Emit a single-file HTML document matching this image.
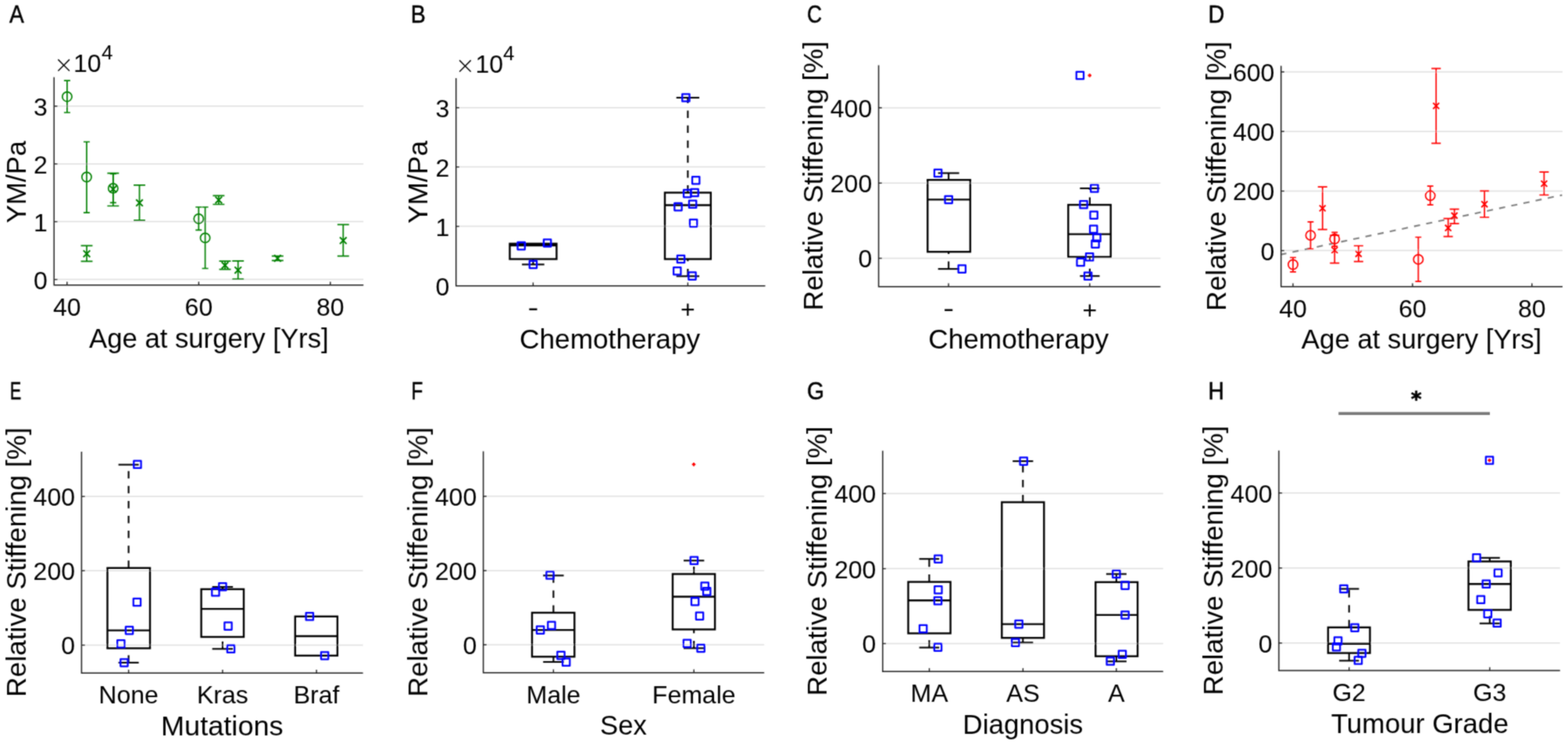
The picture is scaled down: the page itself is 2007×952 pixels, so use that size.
<!DOCTYPE html><html><head><meta charset="utf-8"><title>Figure</title>
<style>html,body{margin:0;padding:0;background:#fff;overflow:hidden;}svg{display:block;}text{font-family:"Liberation Sans", Arial, Helvetica, sans-serif;fill:#000;}</style>
</head><body>
<svg width="2007" height="952" viewBox="0 0 2007 952">
<defs><filter id="soft" filterUnits="userSpaceOnUse" x="0" y="0" width="2007" height="952"><feConvolveMatrix order="3" kernelMatrix="1 2 1 2 8 2 1 2 1" edgeMode="duplicate" preserveAlpha="false"/></filter></defs>
<rect width="2007" height="952" fill="#fff"/>
<g filter="url(#soft)">
<line x1="69.2" y1="357.6" x2="465.2" y2="357.6" stroke="#dfdfdf" stroke-width="1.5"/>
<line x1="69.2" y1="283.6" x2="465.2" y2="283.6" stroke="#dfdfdf" stroke-width="1.5"/>
<line x1="69.2" y1="209.7" x2="465.2" y2="209.7" stroke="#dfdfdf" stroke-width="1.5"/>
<line x1="69.2" y1="135.8" x2="465.2" y2="135.8" stroke="#dfdfdf" stroke-width="1.5"/>
<line x1="583.7" y1="289.6" x2="979.5" y2="289.6" stroke="#dfdfdf" stroke-width="1.5"/>
<line x1="583.7" y1="213.6" x2="979.5" y2="213.6" stroke="#dfdfdf" stroke-width="1.5"/>
<line x1="583.7" y1="137.8" x2="979.5" y2="137.8" stroke="#dfdfdf" stroke-width="1.5"/>
<line x1="1124.6" y1="330.5" x2="1485.4" y2="330.5" stroke="#dfdfdf" stroke-width="1.5"/>
<line x1="1124.6" y1="234.3" x2="1485.4" y2="234.3" stroke="#dfdfdf" stroke-width="1.5"/>
<line x1="1124.6" y1="137.9" x2="1485.4" y2="137.9" stroke="#dfdfdf" stroke-width="1.5"/>
<line x1="1639.7" y1="320.6" x2="2000" y2="320.6" stroke="#dfdfdf" stroke-width="1.5"/>
<line x1="1639.7" y1="244.5" x2="2000" y2="244.5" stroke="#dfdfdf" stroke-width="1.5"/>
<line x1="1639.7" y1="168.2" x2="2000" y2="168.2" stroke="#dfdfdf" stroke-width="1.5"/>
<line x1="1639.7" y1="92" x2="2000" y2="92" stroke="#dfdfdf" stroke-width="1.5"/>
<line x1="104.4" y1="825.5" x2="464.6" y2="825.5" stroke="#dfdfdf" stroke-width="1.5"/>
<line x1="104.4" y1="730.3" x2="464.6" y2="730.3" stroke="#dfdfdf" stroke-width="1.5"/>
<line x1="104.4" y1="635.3" x2="464.6" y2="635.3" stroke="#dfdfdf" stroke-width="1.5"/>
<line x1="618.6" y1="825" x2="978.2" y2="825" stroke="#dfdfdf" stroke-width="1.5"/>
<line x1="618.6" y1="730.2" x2="978.2" y2="730.2" stroke="#dfdfdf" stroke-width="1.5"/>
<line x1="618.6" y1="635.1" x2="978.2" y2="635.1" stroke="#dfdfdf" stroke-width="1.5"/>
<line x1="1129.8" y1="823.5" x2="1488.8" y2="823.5" stroke="#dfdfdf" stroke-width="1.5"/>
<line x1="1129.8" y1="727.6" x2="1488.8" y2="727.6" stroke="#dfdfdf" stroke-width="1.5"/>
<line x1="1129.8" y1="631.5" x2="1488.8" y2="631.5" stroke="#dfdfdf" stroke-width="1.5"/>
<line x1="1636.9" y1="822.8" x2="1996.8" y2="822.8" stroke="#dfdfdf" stroke-width="1.5"/>
<line x1="1636.9" y1="726.8" x2="1996.8" y2="726.8" stroke="#dfdfdf" stroke-width="1.5"/>
<line x1="1636.9" y1="630.8" x2="1996.8" y2="630.8" stroke="#dfdfdf" stroke-width="1.5"/>
<path d="M85.9 103.1V144M81.9 103.1H89.9M81.9 144H89.9" fill="none" stroke="#008000" stroke-width="1.7"/>
<circle cx="85.9" cy="123.7" r="6.1" fill="none" stroke="#008000" stroke-width="1.7"/>
<path d="M110.9 181.5V272.1M106.9 181.5H114.9M106.9 272.1H114.9" fill="none" stroke="#008000" stroke-width="1.7"/>
<circle cx="110.9" cy="226.5" r="6.1" fill="none" stroke="#008000" stroke-width="1.7"/>
<path d="M144.8 222.3V259.3M140.8 222.3H148.8M140.8 259.3H148.8" fill="none" stroke="#008000" stroke-width="1.7"/>
<circle cx="144.8" cy="240.9" r="6.1" fill="none" stroke="#008000" stroke-width="1.7"/>
<path d="M254.3 265V294.3M250.3 265H258.3M250.3 294.3H258.3" fill="none" stroke="#008000" stroke-width="1.7"/>
<circle cx="254.3" cy="279.9" r="6.1" fill="none" stroke="#008000" stroke-width="1.7"/>
<path d="M262.6 265V343.5M258.6 265H266.6M258.6 343.5H266.6" fill="none" stroke="#008000" stroke-width="1.7"/>
<circle cx="262.6" cy="304.4" r="6.1" fill="none" stroke="#008000" stroke-width="1.7"/>
<path d="M111 314.3V334.3M103.55 314.3H118.45M103.55 334.3H118.45" fill="none" stroke="#008000" stroke-width="1.7"/>
<path d="M106.7 320.4L115.3 329M106.7 329L115.3 320.4" fill="none" stroke="#008000" stroke-width="2"/>
<path d="M144.8 221.7V263.5M137.35 221.7H152.25M137.35 263.5H152.25" fill="none" stroke="#008000" stroke-width="1.7"/>
<path d="M140.5 237.8L149.1 246.4M140.5 246.4L149.1 237.8" fill="none" stroke="#008000" stroke-width="2"/>
<path d="M178.5 236.8V281.8M171.05 236.8H185.95M171.05 281.8H185.95" fill="none" stroke="#008000" stroke-width="1.7"/>
<path d="M174.2 255.3L182.8 263.9M174.2 263.9L182.8 255.3" fill="none" stroke="#008000" stroke-width="2"/>
<path d="M279.9 250.4V261.5M272.45 250.4H287.35M272.45 261.5H287.35" fill="none" stroke="#008000" stroke-width="1.7"/>
<path d="M275.6 251.6L284.2 260.2M275.6 260.2L284.2 251.6" fill="none" stroke="#008000" stroke-width="2"/>
<path d="M288 334.1V344.7M280.55 334.1H295.45M280.55 344.7H295.45" fill="none" stroke="#008000" stroke-width="1.7"/>
<path d="M283.7 335.2L292.3 343.8M283.7 343.8L292.3 335.2" fill="none" stroke="#008000" stroke-width="2"/>
<path d="M304.7 333.9V357M297.25 333.9H312.15M297.25 357H312.15" fill="none" stroke="#008000" stroke-width="1.7"/>
<path d="M300.4 341.4L309 350M300.4 350L309 341.4" fill="none" stroke="#008000" stroke-width="2"/>
<path d="M355.3 327.7V333.4M347.85 327.7H362.75M347.85 333.4H362.75" fill="none" stroke="#008000" stroke-width="1.7"/>
<path d="M351 326.3L359.6 334.9M351 334.9L359.6 326.3" fill="none" stroke="#008000" stroke-width="2"/>
<path d="M439.3 287.3V327.6M431.85 287.3H446.75M431.85 327.6H446.75" fill="none" stroke="#008000" stroke-width="1.7"/>
<path d="M435 303.5L443.6 312.1M435 312.1L443.6 303.5" fill="none" stroke="#008000" stroke-width="2"/>
<line x1="682.4" y1="338.4" x2="682.4" y2="331.5" stroke="#000" stroke-width="2.1" stroke-dasharray="9.5 9.6"/>
<line x1="668.1" y1="338.4" x2="696.7" y2="338.4" stroke="#000" stroke-width="2.1"/>
<rect x="652.5" y="311.8" width="59.9" height="19.7" fill="none" stroke="#000" stroke-width="2.4"/>
<line x1="652.5" y1="314" x2="712.4" y2="314" stroke="#000" stroke-width="2.4"/>
<rect x="662.55" y="309.95" width="9.3" height="9.3" fill="none" stroke="#0000ff" stroke-width="2.25" stroke-linejoin="round"/>
<rect x="695.95" y="306.25" width="9.3" height="9.3" fill="none" stroke="#0000ff" stroke-width="2.25" stroke-linejoin="round"/>
<rect x="677.75" y="333.75" width="9.3" height="9.3" fill="none" stroke="#0000ff" stroke-width="2.25" stroke-linejoin="round"/>
<line x1="880.4" y1="246.5" x2="880.4" y2="125" stroke="#000" stroke-width="2.1" stroke-dasharray="9.5 9.6"/>
<line x1="865.7" y1="125" x2="895.1" y2="125" stroke="#000" stroke-width="2.1"/>
<line x1="880.4" y1="353.4" x2="880.4" y2="331.5" stroke="#000" stroke-width="2.1" stroke-dasharray="9.5 9.6"/>
<line x1="865.7" y1="353.4" x2="895.1" y2="353.4" stroke="#000" stroke-width="2.1"/>
<rect x="851" y="246.5" width="58.8" height="85" fill="none" stroke="#000" stroke-width="2.4"/>
<line x1="851" y1="262.5" x2="909.8" y2="262.5" stroke="#000" stroke-width="2.4"/>
<rect x="873.25" y="120.35" width="9.3" height="9.3" fill="none" stroke="#0000ff" stroke-width="2.25" stroke-linejoin="round"/>
<rect x="886.05" y="226.05" width="9.3" height="9.3" fill="none" stroke="#0000ff" stroke-width="2.25" stroke-linejoin="round"/>
<rect x="875.05" y="242.95" width="9.3" height="9.3" fill="none" stroke="#0000ff" stroke-width="2.25" stroke-linejoin="round"/>
<rect x="884.45" y="241.85" width="9.3" height="9.3" fill="none" stroke="#0000ff" stroke-width="2.25" stroke-linejoin="round"/>
<rect x="863.35" y="259.95" width="9.3" height="9.3" fill="none" stroke="#0000ff" stroke-width="2.25" stroke-linejoin="round"/>
<rect x="881.95" y="256.65" width="9.3" height="9.3" fill="none" stroke="#0000ff" stroke-width="2.25" stroke-linejoin="round"/>
<rect x="882.95" y="280.75" width="9.3" height="9.3" fill="none" stroke="#0000ff" stroke-width="2.25" stroke-linejoin="round"/>
<rect x="866.85" y="326.85" width="9.3" height="9.3" fill="none" stroke="#0000ff" stroke-width="2.25" stroke-linejoin="round"/>
<rect x="862.15" y="342.15" width="9.3" height="9.3" fill="none" stroke="#0000ff" stroke-width="2.25" stroke-linejoin="round"/>
<rect x="881.35" y="348.45" width="9.3" height="9.3" fill="none" stroke="#0000ff" stroke-width="2.25" stroke-linejoin="round"/>
<line x1="1214.2" y1="230.2" x2="1214.2" y2="221.5" stroke="#000" stroke-width="2.1" stroke-dasharray="9.5 9.6"/>
<line x1="1200.7" y1="221.5" x2="1227.7" y2="221.5" stroke="#000" stroke-width="2.1"/>
<line x1="1214.2" y1="344.1" x2="1214.2" y2="322.2" stroke="#000" stroke-width="2.1" stroke-dasharray="9.5 9.6"/>
<line x1="1200.7" y1="344.1" x2="1227.7" y2="344.1" stroke="#000" stroke-width="2.1"/>
<rect x="1187.3" y="230.2" width="54.6" height="92" fill="none" stroke="#000" stroke-width="2.4"/>
<line x1="1187.3" y1="255.4" x2="1241.9" y2="255.4" stroke="#000" stroke-width="2.4"/>
<rect x="1195.95" y="216.85" width="9.3" height="9.3" fill="none" stroke="#0000ff" stroke-width="2.25" stroke-linejoin="round"/>
<rect x="1209.55" y="250.75" width="9.3" height="9.3" fill="none" stroke="#0000ff" stroke-width="2.25" stroke-linejoin="round"/>
<rect x="1226.65" y="339.45" width="9.3" height="9.3" fill="none" stroke="#0000ff" stroke-width="2.25" stroke-linejoin="round"/>
<line x1="1394.9" y1="262.1" x2="1394.9" y2="241" stroke="#000" stroke-width="2.1" stroke-dasharray="9.5 9.6"/>
<line x1="1382.3" y1="241" x2="1407.5" y2="241" stroke="#000" stroke-width="2.1"/>
<line x1="1394.9" y1="353.2" x2="1394.9" y2="328.8" stroke="#000" stroke-width="2.1" stroke-dasharray="9.5 9.6"/>
<line x1="1382.3" y1="353.2" x2="1407.5" y2="353.2" stroke="#000" stroke-width="2.1"/>
<rect x="1367.3" y="262.1" width="54.4" height="66.7" fill="none" stroke="#000" stroke-width="2.4"/>
<line x1="1367.3" y1="299.6" x2="1421.7" y2="299.6" stroke="#000" stroke-width="2.4"/>
<rect x="1396.15" y="236.35" width="9.3" height="9.3" fill="none" stroke="#0000ff" stroke-width="2.25" stroke-linejoin="round"/>
<rect x="1382.35" y="257.15" width="9.3" height="9.3" fill="none" stroke="#0000ff" stroke-width="2.25" stroke-linejoin="round"/>
<rect x="1395.45" y="270.55" width="9.3" height="9.3" fill="none" stroke="#0000ff" stroke-width="2.25" stroke-linejoin="round"/>
<rect x="1395.05" y="288.65" width="9.3" height="9.3" fill="none" stroke="#0000ff" stroke-width="2.25" stroke-linejoin="round"/>
<rect x="1399.25" y="299.65" width="9.3" height="9.3" fill="none" stroke="#0000ff" stroke-width="2.25" stroke-linejoin="round"/>
<rect x="1397.35" y="307.55" width="9.3" height="9.3" fill="none" stroke="#0000ff" stroke-width="2.25" stroke-linejoin="round"/>
<rect x="1389.95" y="324.15" width="9.3" height="9.3" fill="none" stroke="#0000ff" stroke-width="2.25" stroke-linejoin="round"/>
<rect x="1378.45" y="330.85" width="9.3" height="9.3" fill="none" stroke="#0000ff" stroke-width="2.25" stroke-linejoin="round"/>
<rect x="1387.95" y="348.55" width="9.3" height="9.3" fill="none" stroke="#0000ff" stroke-width="2.25" stroke-linejoin="round"/>
<rect x="1377.75" y="91.85" width="9.3" height="9.3" fill="none" stroke="#0000ff" stroke-width="2.25" stroke-linejoin="round"/>
<path d="M1392.4 96.5H1397M1394.7 94.2V98.8" stroke="#ff0000" stroke-width="2"/>
<line x1="1639.7" y1="325.6" x2="1999.4" y2="249.6" stroke="#808080" stroke-width="2.1" stroke-dasharray="7.9 8" stroke-dashoffset="0.9"/>
<path d="M1655 329.5V347.9M1651.1 329.5H1658.9M1651.1 347.9H1658.9" fill="none" stroke="#ff0000" stroke-width="1.7"/>
<circle cx="1655" cy="338.5" r="6.1" fill="none" stroke="#ff0000" stroke-width="1.7"/>
<path d="M1677.5 283.8V318.5M1673.6 283.8H1681.4M1673.6 318.5H1681.4" fill="none" stroke="#ff0000" stroke-width="1.7"/>
<circle cx="1677.5" cy="301.1" r="6.1" fill="none" stroke="#ff0000" stroke-width="1.7"/>
<path d="M1708.3 297.3V315.2M1704.4 297.3H1712.2M1704.4 315.2H1712.2" fill="none" stroke="#ff0000" stroke-width="1.7"/>
<circle cx="1708.3" cy="305.8" r="6.1" fill="none" stroke="#ff0000" stroke-width="1.7"/>
<path d="M1815.4 303.5V360.2M1811.5 303.5H1819.3M1811.5 360.2H1819.3" fill="none" stroke="#ff0000" stroke-width="1.7"/>
<circle cx="1815.4" cy="331.9" r="6.1" fill="none" stroke="#ff0000" stroke-width="1.7"/>
<path d="M1830.7 238.1V262.1M1826.8 238.1H1834.6M1826.8 262.1H1834.6" fill="none" stroke="#ff0000" stroke-width="1.7"/>
<circle cx="1830.7" cy="250.3" r="6.1" fill="none" stroke="#ff0000" stroke-width="1.7"/>
<path d="M1692.8 239.2V293.6M1686.8 239.2H1698.8M1686.8 293.6H1698.8" fill="none" stroke="#ff0000" stroke-width="1.7"/>
<path d="M1688.9 262.6L1696.7 270.4M1688.9 270.4L1696.7 262.6" fill="none" stroke="#ff0000" stroke-width="2"/>
<path d="M1708.3 301.1V336.7M1702.3 301.1H1714.3M1702.3 336.7H1714.3" fill="none" stroke="#ff0000" stroke-width="1.7"/>
<path d="M1704.4 316.1L1712.2 323.9M1704.4 323.9L1712.2 316.1" fill="none" stroke="#ff0000" stroke-width="2"/>
<path d="M1738.9 314.5V334.7M1732.9 314.5H1744.9M1732.9 334.7H1744.9" fill="none" stroke="#ff0000" stroke-width="1.7"/>
<path d="M1735 320.9L1742.8 328.7M1735 328.7L1742.8 320.9" fill="none" stroke="#ff0000" stroke-width="2"/>
<path d="M1838.2 87.7V183.3M1832.2 87.7H1844.2M1832.2 183.3H1844.2" fill="none" stroke="#ff0000" stroke-width="1.7"/>
<path d="M1834.3 131.6L1842.1 139.4M1834.3 139.4L1842.1 131.6" fill="none" stroke="#ff0000" stroke-width="2"/>
<path d="M1853.6 279.6V302.7M1847.6 279.6H1859.6M1847.6 302.7H1859.6" fill="none" stroke="#ff0000" stroke-width="1.7"/>
<path d="M1849.7 287.8L1857.5 295.6M1849.7 295.6L1857.5 287.8" fill="none" stroke="#ff0000" stroke-width="2"/>
<path d="M1861.6 267.6V286.2M1855.6 267.6H1867.6M1855.6 286.2H1867.6" fill="none" stroke="#ff0000" stroke-width="1.7"/>
<path d="M1857.7 272L1865.5 279.8M1857.7 279.8L1865.5 272" fill="none" stroke="#ff0000" stroke-width="2"/>
<path d="M1900.1 244.4V278M1894.1 244.4H1906.1M1894.1 278H1906.1" fill="none" stroke="#ff0000" stroke-width="1.7"/>
<path d="M1896.2 257.4L1904 265.2M1896.2 265.2L1904 257.4" fill="none" stroke="#ff0000" stroke-width="2"/>
<path d="M1976.4 220.2V249.5M1970.4 220.2H1982.4M1970.4 249.5H1982.4" fill="none" stroke="#ff0000" stroke-width="1.7"/>
<path d="M1972.5 231.1L1980.3 238.9M1972.5 238.9L1980.3 231.1" fill="none" stroke="#ff0000" stroke-width="2"/>
<line x1="164.6" y1="726.8" x2="164.6" y2="594.6" stroke="#000" stroke-width="2.1" stroke-dasharray="9.5 9.6"/>
<line x1="151.6" y1="594.6" x2="177.6" y2="594.6" stroke="#000" stroke-width="2.1"/>
<line x1="164.6" y1="847.9" x2="164.6" y2="829.5" stroke="#000" stroke-width="2.1" stroke-dasharray="9.5 9.6"/>
<line x1="151.6" y1="847.9" x2="177.6" y2="847.9" stroke="#000" stroke-width="2.1"/>
<rect x="137.5" y="726.8" width="54.5" height="102.7" fill="none" stroke="#000" stroke-width="2.4"/>
<line x1="137.5" y1="806.6" x2="192" y2="806.6" stroke="#000" stroke-width="2.4"/>
<rect x="171.25" y="589.65" width="9.3" height="9.3" fill="none" stroke="#0000ff" stroke-width="2.25" stroke-linejoin="round"/>
<rect x="170.75" y="765.85" width="9.3" height="9.3" fill="none" stroke="#0000ff" stroke-width="2.25" stroke-linejoin="round"/>
<rect x="160.85" y="801.95" width="9.3" height="9.3" fill="none" stroke="#0000ff" stroke-width="2.25" stroke-linejoin="round"/>
<rect x="150.15" y="819.15" width="9.3" height="9.3" fill="none" stroke="#0000ff" stroke-width="2.25" stroke-linejoin="round"/>
<rect x="154.25" y="843.25" width="9.3" height="9.3" fill="none" stroke="#0000ff" stroke-width="2.25" stroke-linejoin="round"/>
<line x1="284.9" y1="753.9" x2="284.9" y2="751" stroke="#000" stroke-width="2.1" stroke-dasharray="9.5 9.6"/>
<line x1="271.65" y1="751" x2="298.15" y2="751" stroke="#000" stroke-width="2.1"/>
<line x1="284.9" y1="830.3" x2="284.9" y2="815" stroke="#000" stroke-width="2.1" stroke-dasharray="9.5 9.6"/>
<line x1="271.65" y1="830.3" x2="298.15" y2="830.3" stroke="#000" stroke-width="2.1"/>
<rect x="257.6" y="753.9" width="54.4" height="61.1" fill="none" stroke="#000" stroke-width="2.4"/>
<line x1="257.6" y1="779.1" x2="312" y2="779.1" stroke="#000" stroke-width="2.4"/>
<rect x="280.25" y="746.05" width="9.3" height="9.3" fill="none" stroke="#0000ff" stroke-width="2.25" stroke-linejoin="round"/>
<rect x="271.25" y="753.15" width="9.3" height="9.3" fill="none" stroke="#0000ff" stroke-width="2.25" stroke-linejoin="round"/>
<rect x="287.35" y="796.45" width="9.3" height="9.3" fill="none" stroke="#0000ff" stroke-width="2.25" stroke-linejoin="round"/>
<rect x="290.85" y="825.65" width="9.3" height="9.3" fill="none" stroke="#0000ff" stroke-width="2.25" stroke-linejoin="round"/>
<rect x="377.8" y="788.8" width="54.1" height="50.1" fill="none" stroke="#000" stroke-width="2.4"/>
<line x1="377.8" y1="814" x2="431.9" y2="814" stroke="#000" stroke-width="2.4"/>
<rect x="391.65" y="784.15" width="9.3" height="9.3" fill="none" stroke="#0000ff" stroke-width="2.25" stroke-linejoin="round"/>
<rect x="410.95" y="834.25" width="9.3" height="9.3" fill="none" stroke="#0000ff" stroke-width="2.25" stroke-linejoin="round"/>
<line x1="708.4" y1="784" x2="708.4" y2="736.4" stroke="#000" stroke-width="2.1" stroke-dasharray="9.5 9.6"/>
<line x1="695.2" y1="736.4" x2="721.6" y2="736.4" stroke="#000" stroke-width="2.1"/>
<line x1="708.4" y1="847" x2="708.4" y2="840.3" stroke="#000" stroke-width="2.1" stroke-dasharray="9.5 9.6"/>
<line x1="695.2" y1="847" x2="721.6" y2="847" stroke="#000" stroke-width="2.1"/>
<rect x="681" y="784" width="54.3" height="56.3" fill="none" stroke="#000" stroke-width="2.4"/>
<line x1="681" y1="806.1" x2="735.3" y2="806.1" stroke="#000" stroke-width="2.4"/>
<rect x="699.35" y="731.35" width="9.3" height="9.3" fill="none" stroke="#0000ff" stroke-width="2.25" stroke-linejoin="round"/>
<rect x="701.25" y="795.65" width="9.3" height="9.3" fill="none" stroke="#0000ff" stroke-width="2.25" stroke-linejoin="round"/>
<rect x="686.95" y="801.45" width="9.3" height="9.3" fill="none" stroke="#0000ff" stroke-width="2.25" stroke-linejoin="round"/>
<rect x="713.35" y="833.95" width="9.3" height="9.3" fill="none" stroke="#0000ff" stroke-width="2.25" stroke-linejoin="round"/>
<rect x="720.05" y="842.65" width="9.3" height="9.3" fill="none" stroke="#0000ff" stroke-width="2.25" stroke-linejoin="round"/>
<line x1="888.2" y1="734.5" x2="888.2" y2="717.3" stroke="#000" stroke-width="2.1" stroke-dasharray="9.5 9.6"/>
<line x1="875.05" y1="717.3" x2="901.35" y2="717.3" stroke="#000" stroke-width="2.1"/>
<line x1="888.2" y1="829.4" x2="888.2" y2="805.4" stroke="#000" stroke-width="2.1" stroke-dasharray="9.5 9.6"/>
<line x1="875.05" y1="829.4" x2="901.35" y2="829.4" stroke="#000" stroke-width="2.1"/>
<rect x="861" y="734.5" width="54.1" height="70.9" fill="none" stroke="#000" stroke-width="2.4"/>
<line x1="861" y1="763.5" x2="915.1" y2="763.5" stroke="#000" stroke-width="2.4"/>
<rect x="883.75" y="712.65" width="9.3" height="9.3" fill="none" stroke="#0000ff" stroke-width="2.25" stroke-linejoin="round"/>
<rect x="897.55" y="745.25" width="9.3" height="9.3" fill="none" stroke="#0000ff" stroke-width="2.25" stroke-linejoin="round"/>
<rect x="900.05" y="752.15" width="9.3" height="9.3" fill="none" stroke="#0000ff" stroke-width="2.25" stroke-linejoin="round"/>
<rect x="884.95" y="765.05" width="9.3" height="9.3" fill="none" stroke="#0000ff" stroke-width="2.25" stroke-linejoin="round"/>
<rect x="890.85" y="783.55" width="9.3" height="9.3" fill="none" stroke="#0000ff" stroke-width="2.25" stroke-linejoin="round"/>
<rect x="874.85" y="818.55" width="9.3" height="9.3" fill="none" stroke="#0000ff" stroke-width="2.25" stroke-linejoin="round"/>
<rect x="892.45" y="824.75" width="9.3" height="9.3" fill="none" stroke="#0000ff" stroke-width="2.25" stroke-linejoin="round"/>
<path d="M885.7 594.2H890.3M888 591.9V596.5" stroke="#ff0000" stroke-width="2"/>
<line x1="1189.4" y1="744.6" x2="1189.4" y2="715.2" stroke="#000" stroke-width="2.1" stroke-dasharray="9.5 9.6"/>
<line x1="1176.6" y1="715.2" x2="1202.2" y2="715.2" stroke="#000" stroke-width="2.1"/>
<line x1="1189.4" y1="828.6" x2="1189.4" y2="810.4" stroke="#000" stroke-width="2.1" stroke-dasharray="9.5 9.6"/>
<line x1="1176.6" y1="828.6" x2="1202.2" y2="828.6" stroke="#000" stroke-width="2.1"/>
<rect x="1162.5" y="744.6" width="54.1" height="65.8" fill="none" stroke="#000" stroke-width="2.4"/>
<line x1="1162.5" y1="768.2" x2="1216.6" y2="768.2" stroke="#000" stroke-width="2.4"/>
<rect x="1196.25" y="710.55" width="9.3" height="9.3" fill="none" stroke="#0000ff" stroke-width="2.25" stroke-linejoin="round"/>
<rect x="1196.25" y="750.15" width="9.3" height="9.3" fill="none" stroke="#0000ff" stroke-width="2.25" stroke-linejoin="round"/>
<rect x="1195.85" y="764.15" width="9.3" height="9.3" fill="none" stroke="#0000ff" stroke-width="2.25" stroke-linejoin="round"/>
<rect x="1176.95" y="799.85" width="9.3" height="9.3" fill="none" stroke="#0000ff" stroke-width="2.25" stroke-linejoin="round"/>
<rect x="1195.85" y="823.55" width="9.3" height="9.3" fill="none" stroke="#0000ff" stroke-width="2.25" stroke-linejoin="round"/>
<line x1="1309.3" y1="642.6" x2="1309.3" y2="590.1" stroke="#000" stroke-width="2.1" stroke-dasharray="9.5 9.6"/>
<line x1="1296.2" y1="590.1" x2="1322.4" y2="590.1" stroke="#000" stroke-width="2.1"/>
<line x1="1309.3" y1="822.2" x2="1309.3" y2="816.2" stroke="#000" stroke-width="2.1" stroke-dasharray="9.5 9.6"/>
<line x1="1296.2" y1="822.2" x2="1322.4" y2="822.2" stroke="#000" stroke-width="2.1"/>
<rect x="1282.3" y="642.6" width="54" height="173.6" fill="none" stroke="#000" stroke-width="2.4"/>
<line x1="1282.3" y1="798.6" x2="1336.3" y2="798.6" stroke="#000" stroke-width="2.4"/>
<rect x="1305.55" y="585.45" width="9.3" height="9.3" fill="none" stroke="#0000ff" stroke-width="2.25" stroke-linejoin="round"/>
<rect x="1299.45" y="793.95" width="9.3" height="9.3" fill="none" stroke="#0000ff" stroke-width="2.25" stroke-linejoin="round"/>
<rect x="1295.05" y="817.55" width="9.3" height="9.3" fill="none" stroke="#0000ff" stroke-width="2.25" stroke-linejoin="round"/>
<line x1="1428.9" y1="744.9" x2="1428.9" y2="734.5" stroke="#000" stroke-width="2.1" stroke-dasharray="9.5 9.6"/>
<line x1="1415.9" y1="734.5" x2="1441.9" y2="734.5" stroke="#000" stroke-width="2.1"/>
<line x1="1428.9" y1="846.3" x2="1428.9" y2="839.7" stroke="#000" stroke-width="2.1" stroke-dasharray="9.5 9.6"/>
<line x1="1415.9" y1="846.3" x2="1441.9" y2="846.3" stroke="#000" stroke-width="2.1"/>
<rect x="1402.3" y="744.9" width="53.8" height="94.8" fill="none" stroke="#000" stroke-width="2.4"/>
<line x1="1402.3" y1="786.9" x2="1456.1" y2="786.9" stroke="#000" stroke-width="2.4"/>
<rect x="1424.25" y="729.85" width="9.3" height="9.3" fill="none" stroke="#0000ff" stroke-width="2.25" stroke-linejoin="round"/>
<rect x="1435.45" y="744.45" width="9.3" height="9.3" fill="none" stroke="#0000ff" stroke-width="2.25" stroke-linejoin="round"/>
<rect x="1435.45" y="782.25" width="9.3" height="9.3" fill="none" stroke="#0000ff" stroke-width="2.25" stroke-linejoin="round"/>
<rect x="1431.85" y="832.65" width="9.3" height="9.3" fill="none" stroke="#0000ff" stroke-width="2.25" stroke-linejoin="round"/>
<rect x="1416.55" y="841.35" width="9.3" height="9.3" fill="none" stroke="#0000ff" stroke-width="2.25" stroke-linejoin="round"/>
<line x1="1726.8" y1="802.8" x2="1726.8" y2="753.5" stroke="#000" stroke-width="2.1" stroke-dasharray="9.5 9.6"/>
<line x1="1714.1" y1="753.5" x2="1739.5" y2="753.5" stroke="#000" stroke-width="2.1"/>
<line x1="1726.8" y1="845.4" x2="1726.8" y2="835.6" stroke="#000" stroke-width="2.1" stroke-dasharray="9.5 9.6"/>
<line x1="1714.1" y1="845.4" x2="1739.5" y2="845.4" stroke="#000" stroke-width="2.1"/>
<rect x="1699.9" y="802.8" width="53.6" height="32.8" fill="none" stroke="#000" stroke-width="2.4"/>
<line x1="1699.9" y1="823.7" x2="1753.5" y2="823.7" stroke="#000" stroke-width="2.4"/>
<rect x="1715.35" y="748.85" width="9.3" height="9.3" fill="none" stroke="#0000ff" stroke-width="2.25" stroke-linejoin="round"/>
<rect x="1729.45" y="798.55" width="9.3" height="9.3" fill="none" stroke="#0000ff" stroke-width="2.25" stroke-linejoin="round"/>
<rect x="1707.95" y="815.35" width="9.3" height="9.3" fill="none" stroke="#0000ff" stroke-width="2.25" stroke-linejoin="round"/>
<rect x="1705.95" y="823.15" width="9.3" height="9.3" fill="none" stroke="#0000ff" stroke-width="2.25" stroke-linejoin="round"/>
<rect x="1738.55" y="831.25" width="9.3" height="9.3" fill="none" stroke="#0000ff" stroke-width="2.25" stroke-linejoin="round"/>
<rect x="1733.85" y="840.35" width="9.3" height="9.3" fill="none" stroke="#0000ff" stroke-width="2.25" stroke-linejoin="round"/>
<line x1="1906.8" y1="718.4" x2="1906.8" y2="713.8" stroke="#000" stroke-width="2.1" stroke-dasharray="9.5 9.6"/>
<line x1="1893.8" y1="713.8" x2="1919.8" y2="713.8" stroke="#000" stroke-width="2.1"/>
<line x1="1906.8" y1="797.7" x2="1906.8" y2="780.4" stroke="#000" stroke-width="2.1" stroke-dasharray="9.5 9.6"/>
<line x1="1893.8" y1="797.7" x2="1919.8" y2="797.7" stroke="#000" stroke-width="2.1"/>
<rect x="1879.6" y="718.4" width="54.2" height="62" fill="none" stroke="#000" stroke-width="2.4"/>
<line x1="1879.6" y1="747.3" x2="1933.8" y2="747.3" stroke="#000" stroke-width="2.4"/>
<rect x="1885.35" y="709.15" width="9.3" height="9.3" fill="none" stroke="#0000ff" stroke-width="2.25" stroke-linejoin="round"/>
<rect x="1912.85" y="728.35" width="9.3" height="9.3" fill="none" stroke="#0000ff" stroke-width="2.25" stroke-linejoin="round"/>
<rect x="1897.65" y="742.65" width="9.3" height="9.3" fill="none" stroke="#0000ff" stroke-width="2.25" stroke-linejoin="round"/>
<rect x="1890.75" y="762.65" width="9.3" height="9.3" fill="none" stroke="#0000ff" stroke-width="2.25" stroke-linejoin="round"/>
<rect x="1899.65" y="780.75" width="9.3" height="9.3" fill="none" stroke="#0000ff" stroke-width="2.25" stroke-linejoin="round"/>
<rect x="1911.65" y="792.65" width="9.3" height="9.3" fill="none" stroke="#0000ff" stroke-width="2.25" stroke-linejoin="round"/>
<rect x="1901.85" y="584.35" width="9.3" height="9.3" fill="none" stroke="#0000ff" stroke-width="2.25" stroke-linejoin="round"/>
<path d="M1904.3 589H1908.7M1906.5 586.8V591.2" stroke="#ff0000" stroke-width="2"/>
<line x1="1713.3" y1="529.1" x2="1907" y2="529.1" stroke="#787878" stroke-width="3.8"/>
<text x="1812.7" y="520.2" text-anchor="middle" font-size="26" stroke="#000" stroke-width="0.7" style="font-family:'DejaVu Sans',sans-serif;font-weight:bold">*</text>
<path d="M69.2 98.7V364.7H465.2" fill="none" stroke="#1c1c1c" stroke-width="1.5"/>
<line x1="69.2" y1="357.6" x2="73.5" y2="357.6" stroke="#1c1c1c" stroke-width="1.4"/>
<line x1="69.2" y1="283.6" x2="73.5" y2="283.6" stroke="#1c1c1c" stroke-width="1.4"/>
<line x1="69.2" y1="209.7" x2="73.5" y2="209.7" stroke="#1c1c1c" stroke-width="1.4"/>
<line x1="69.2" y1="135.8" x2="73.5" y2="135.8" stroke="#1c1c1c" stroke-width="1.4"/>
<line x1="85.8" y1="364.7" x2="85.8" y2="360.4" stroke="#1c1c1c" stroke-width="1.4"/>
<line x1="254.4" y1="364.7" x2="254.4" y2="360.4" stroke="#1c1c1c" stroke-width="1.4"/>
<line x1="422.8" y1="364.7" x2="422.8" y2="360.4" stroke="#1c1c1c" stroke-width="1.4"/>
<text x="60.8" y="369.5" text-anchor="end" font-size="32">0</text>
<text x="60.8" y="295.5" text-anchor="end" font-size="32">1</text>
<text x="60.8" y="221.6" text-anchor="end" font-size="32">2</text>
<text x="60.8" y="147.7" text-anchor="end" font-size="32">3</text>
<text x="85.8" y="403.5" text-anchor="middle" font-size="32">40</text>
<text x="254.4" y="403.5" text-anchor="middle" font-size="32">60</text>
<text x="422.8" y="403.5" text-anchor="middle" font-size="32">80</text>
<text x="114.03" y="444.9" font-size="35.2" textLength="306.63" lengthAdjust="spacingAndGlyphs">Age at surgery [Yrs]</text>
<text transform="translate(32.8 232.5) rotate(-90)" x="-53.07" y="0" font-size="35.2" textLength="105.37" lengthAdjust="spacingAndGlyphs">YM/Pa</text>
<path d="M583.7 100.1V365.8H979.5" fill="none" stroke="#1c1c1c" stroke-width="1.5"/>
<line x1="583.7" y1="289.6" x2="588" y2="289.6" stroke="#1c1c1c" stroke-width="1.4"/>
<line x1="583.7" y1="213.6" x2="588" y2="213.6" stroke="#1c1c1c" stroke-width="1.4"/>
<line x1="583.7" y1="137.8" x2="588" y2="137.8" stroke="#1c1c1c" stroke-width="1.4"/>
<line x1="682.4" y1="365.8" x2="682.4" y2="361.5" stroke="#1c1c1c" stroke-width="1.4"/>
<line x1="880.4" y1="365.8" x2="880.4" y2="361.5" stroke="#1c1c1c" stroke-width="1.4"/>
<text x="575.3" y="377.5" text-anchor="end" font-size="32">0</text>
<text x="575.3" y="301.5" text-anchor="end" font-size="32">1</text>
<text x="575.3" y="225.5" text-anchor="end" font-size="32">2</text>
<text x="575.3" y="149.7" text-anchor="end" font-size="32">3</text>
<text transform="translate(682.4 404) scale(1.3 1)" x="0" y="0" text-anchor="middle" font-size="32">-</text>
<text x="880.4" y="407" text-anchor="middle" font-size="32">+</text>
<text x="665" y="445.8" font-size="35.2" textLength="231.17" lengthAdjust="spacingAndGlyphs">Chemotherapy</text>
<text transform="translate(547.3 232.6) rotate(-90)" x="-53.38" y="0" font-size="35.2" textLength="105.98" lengthAdjust="spacingAndGlyphs">YM/Pa</text>
<path d="M1124.6 83.4V366.8H1485.4" fill="none" stroke="#1c1c1c" stroke-width="1.5"/>
<line x1="1124.6" y1="330.5" x2="1128.9" y2="330.5" stroke="#1c1c1c" stroke-width="1.4"/>
<line x1="1124.6" y1="234.3" x2="1128.9" y2="234.3" stroke="#1c1c1c" stroke-width="1.4"/>
<line x1="1124.6" y1="137.9" x2="1128.9" y2="137.9" stroke="#1c1c1c" stroke-width="1.4"/>
<line x1="1214.1" y1="366.8" x2="1214.1" y2="362.5" stroke="#1c1c1c" stroke-width="1.4"/>
<line x1="1394.8" y1="366.8" x2="1394.8" y2="362.5" stroke="#1c1c1c" stroke-width="1.4"/>
<text x="1116.2" y="342.4" text-anchor="end" font-size="32">0</text>
<text x="1116.2" y="246.2" text-anchor="end" font-size="32">200</text>
<text x="1116.2" y="149.8" text-anchor="end" font-size="32">400</text>
<text transform="translate(1214.1 405) scale(1.3 1)" x="0" y="0" text-anchor="middle" font-size="32">-</text>
<text x="1394.8" y="408" text-anchor="middle" font-size="32">+</text>
<text x="1188.31" y="446.1" font-size="35.2" textLength="230.76" lengthAdjust="spacingAndGlyphs">Chemotherapy</text>
<text transform="translate(1052.8 224.85) rotate(-90)" x="-172.65" y="0" font-size="35.2" textLength="344.9" lengthAdjust="spacingAndGlyphs">Relative Stiffening [&#37;]</text>
<path d="M1639.7 84.2V366.8H2000" fill="none" stroke="#1c1c1c" stroke-width="1.5"/>
<line x1="1639.7" y1="320.6" x2="1644" y2="320.6" stroke="#1c1c1c" stroke-width="1.4"/>
<line x1="1639.7" y1="244.5" x2="1644" y2="244.5" stroke="#1c1c1c" stroke-width="1.4"/>
<line x1="1639.7" y1="168.2" x2="1644" y2="168.2" stroke="#1c1c1c" stroke-width="1.4"/>
<line x1="1639.7" y1="92" x2="1644" y2="92" stroke="#1c1c1c" stroke-width="1.4"/>
<line x1="1655" y1="366.8" x2="1655" y2="362.5" stroke="#1c1c1c" stroke-width="1.4"/>
<line x1="1808" y1="366.8" x2="1808" y2="362.5" stroke="#1c1c1c" stroke-width="1.4"/>
<line x1="1960.8" y1="366.8" x2="1960.8" y2="362.5" stroke="#1c1c1c" stroke-width="1.4"/>
<text x="1631.3" y="332.5" text-anchor="end" font-size="32">0</text>
<text x="1631.3" y="256.4" text-anchor="end" font-size="32">200</text>
<text x="1631.3" y="180.1" text-anchor="end" font-size="32">400</text>
<text x="1631.3" y="103.9" text-anchor="end" font-size="32">600</text>
<text x="1655" y="405.6" text-anchor="middle" font-size="32">40</text>
<text x="1808" y="405.6" text-anchor="middle" font-size="32">60</text>
<text x="1960.8" y="405.6" text-anchor="middle" font-size="32">80</text>
<text x="1665.83" y="446.2" font-size="35.2" textLength="307.44" lengthAdjust="spacingAndGlyphs">Age at surgery [Yrs]</text>
<text transform="translate(1568.6 225.2) rotate(-90)" x="-172.7" y="0" font-size="35.2" textLength="345.01" lengthAdjust="spacingAndGlyphs">Relative Stiffening [&#37;]</text>
<path d="M104.4 577.9V861.2H464.6" fill="none" stroke="#1c1c1c" stroke-width="1.5"/>
<line x1="104.4" y1="825.5" x2="108.7" y2="825.5" stroke="#1c1c1c" stroke-width="1.4"/>
<line x1="104.4" y1="730.3" x2="108.7" y2="730.3" stroke="#1c1c1c" stroke-width="1.4"/>
<line x1="104.4" y1="635.3" x2="108.7" y2="635.3" stroke="#1c1c1c" stroke-width="1.4"/>
<line x1="164.6" y1="861.2" x2="164.6" y2="856.9" stroke="#1c1c1c" stroke-width="1.4"/>
<line x1="284.9" y1="861.2" x2="284.9" y2="856.9" stroke="#1c1c1c" stroke-width="1.4"/>
<line x1="405.1" y1="861.2" x2="405.1" y2="856.9" stroke="#1c1c1c" stroke-width="1.4"/>
<text x="96" y="837.4" text-anchor="end" font-size="32">0</text>
<text x="96" y="742.2" text-anchor="end" font-size="32">200</text>
<text x="96" y="647.2" text-anchor="end" font-size="32">400</text>
<text x="164.6" y="900" text-anchor="middle" font-size="32">None</text>
<text x="284.9" y="900" text-anchor="middle" font-size="32">Kras</text>
<text x="405.1" y="900" text-anchor="middle" font-size="32">Braf</text>
<text x="205.93" y="941.4" font-size="35.2" textLength="156.77" lengthAdjust="spacingAndGlyphs">Mutations</text>
<text transform="translate(33 719.25) rotate(-90)" x="-172.7" y="0" font-size="35.2" textLength="345.01" lengthAdjust="spacingAndGlyphs">Relative Stiffening [&#37;]</text>
<path d="M618.6 577.6V860.8H978.2" fill="none" stroke="#1c1c1c" stroke-width="1.5"/>
<line x1="618.6" y1="825" x2="622.9" y2="825" stroke="#1c1c1c" stroke-width="1.4"/>
<line x1="618.6" y1="730.2" x2="622.9" y2="730.2" stroke="#1c1c1c" stroke-width="1.4"/>
<line x1="618.6" y1="635.1" x2="622.9" y2="635.1" stroke="#1c1c1c" stroke-width="1.4"/>
<line x1="708.4" y1="860.8" x2="708.4" y2="856.5" stroke="#1c1c1c" stroke-width="1.4"/>
<line x1="888.2" y1="860.8" x2="888.2" y2="856.5" stroke="#1c1c1c" stroke-width="1.4"/>
<text x="610.2" y="836.9" text-anchor="end" font-size="32">0</text>
<text x="610.2" y="742.1" text-anchor="end" font-size="32">200</text>
<text x="610.2" y="647" text-anchor="end" font-size="32">400</text>
<text x="708.4" y="899.6" text-anchor="middle" font-size="32">Male</text>
<text x="888.2" y="899.6" text-anchor="middle" font-size="32">Female</text>
<text x="768.1" y="940.4" font-size="35.2" textLength="59.88" lengthAdjust="spacingAndGlyphs">Sex</text>
<text transform="translate(547 718.9) rotate(-90)" x="-172.7" y="0" font-size="35.2" textLength="345.01" lengthAdjust="spacingAndGlyphs">Relative Stiffening [&#37;]</text>
<path d="M1129.8 576.8V859.2H1488.8" fill="none" stroke="#1c1c1c" stroke-width="1.5"/>
<line x1="1129.8" y1="823.5" x2="1134.1" y2="823.5" stroke="#1c1c1c" stroke-width="1.4"/>
<line x1="1129.8" y1="727.6" x2="1134.1" y2="727.6" stroke="#1c1c1c" stroke-width="1.4"/>
<line x1="1129.8" y1="631.5" x2="1134.1" y2="631.5" stroke="#1c1c1c" stroke-width="1.4"/>
<line x1="1189.5" y1="859.2" x2="1189.5" y2="854.9" stroke="#1c1c1c" stroke-width="1.4"/>
<line x1="1309.4" y1="859.2" x2="1309.4" y2="854.9" stroke="#1c1c1c" stroke-width="1.4"/>
<line x1="1428.9" y1="859.2" x2="1428.9" y2="854.9" stroke="#1c1c1c" stroke-width="1.4"/>
<text x="1121.4" y="835.4" text-anchor="end" font-size="32">0</text>
<text x="1121.4" y="739.5" text-anchor="end" font-size="32">200</text>
<text x="1121.4" y="643.4" text-anchor="end" font-size="32">400</text>
<text x="1189.5" y="898" text-anchor="middle" font-size="32">MA</text>
<text x="1309.4" y="898" text-anchor="middle" font-size="32">AS</text>
<text x="1428.9" y="898" text-anchor="middle" font-size="32">A</text>
<text x="1232.33" y="939.4" font-size="35.2" textLength="153.94" lengthAdjust="spacingAndGlyphs">Diagnosis</text>
<text transform="translate(1058.2 717.7) rotate(-90)" x="-172.7" y="0" font-size="35.2" textLength="345.01" lengthAdjust="spacingAndGlyphs">Relative Stiffening [&#37;]</text>
<path d="M1636.9 576.5V858H1996.8" fill="none" stroke="#1c1c1c" stroke-width="1.5"/>
<line x1="1636.9" y1="822.8" x2="1641.2" y2="822.8" stroke="#1c1c1c" stroke-width="1.4"/>
<line x1="1636.9" y1="726.8" x2="1641.2" y2="726.8" stroke="#1c1c1c" stroke-width="1.4"/>
<line x1="1636.9" y1="630.8" x2="1641.2" y2="630.8" stroke="#1c1c1c" stroke-width="1.4"/>
<line x1="1726.8" y1="858" x2="1726.8" y2="853.7" stroke="#1c1c1c" stroke-width="1.4"/>
<line x1="1906.8" y1="858" x2="1906.8" y2="853.7" stroke="#1c1c1c" stroke-width="1.4"/>
<text x="1628.5" y="834.7" text-anchor="end" font-size="32">0</text>
<text x="1628.5" y="738.7" text-anchor="end" font-size="32">200</text>
<text x="1628.5" y="642.7" text-anchor="end" font-size="32">400</text>
<text x="1726.8" y="896.8" text-anchor="middle" font-size="32">G2</text>
<text x="1906.8" y="896.8" text-anchor="middle" font-size="32">G3</text>
<text x="1703.63" y="937.9" font-size="35.2" textLength="227.32" lengthAdjust="spacingAndGlyphs">Tumour Grade</text>
<text transform="translate(1565.3 716.95) rotate(-90)" x="-172.7" y="0" font-size="35.2" textLength="345.01" lengthAdjust="spacingAndGlyphs">Relative Stiffening [&#37;]</text>
<text x="68.94" y="93.46" font-size="30.2" style="font-family:'DejaVu Sans',sans-serif;font-weight:200">&#215;</text>
<text x="94.07" y="91.8" font-size="32">10</text>
<text x="129.9" y="76" font-size="26">4</text>
<text x="582.74" y="94.26" font-size="30.2" style="font-family:'DejaVu Sans',sans-serif;font-weight:200">&#215;</text>
<text x="608.57" y="92.6" font-size="32">10</text>
<text x="644" y="77" font-size="26">4</text>
<text transform="translate(11.94 28.5) scale(0.905 1)" x="0" y="0" font-size="31" stroke="#000" stroke-width="0.55">A</text>
<text transform="translate(525.76 28.5) scale(0.92 1)" x="0" y="0" font-size="31" stroke="#000" stroke-width="0.55">B</text>
<text transform="translate(1033.06 28.5) scale(0.85 1)" x="0" y="0" font-size="31" stroke="#000" stroke-width="0.55">C</text>
<text transform="translate(1546.54 28.5) scale(0.93 1)" x="0" y="0" font-size="31" stroke="#000" stroke-width="0.55">D</text>
<text transform="translate(12.82 510.8) scale(0.7 1)" x="0" y="0" font-size="31" stroke="#000" stroke-width="0.55">E</text>
<text transform="translate(526.42 510.8) scale(0.78 1)" x="0" y="0" font-size="31" stroke="#000" stroke-width="0.55">F</text>
<text transform="translate(1032.99 510.8) scale(0.91 1)" x="0" y="0" font-size="31" stroke="#000" stroke-width="0.55">G</text>
<text transform="translate(1546.59 510.8) scale(0.91 1)" x="0" y="0" font-size="31" stroke="#000" stroke-width="0.55">H</text>
</g>
</svg></body></html>
